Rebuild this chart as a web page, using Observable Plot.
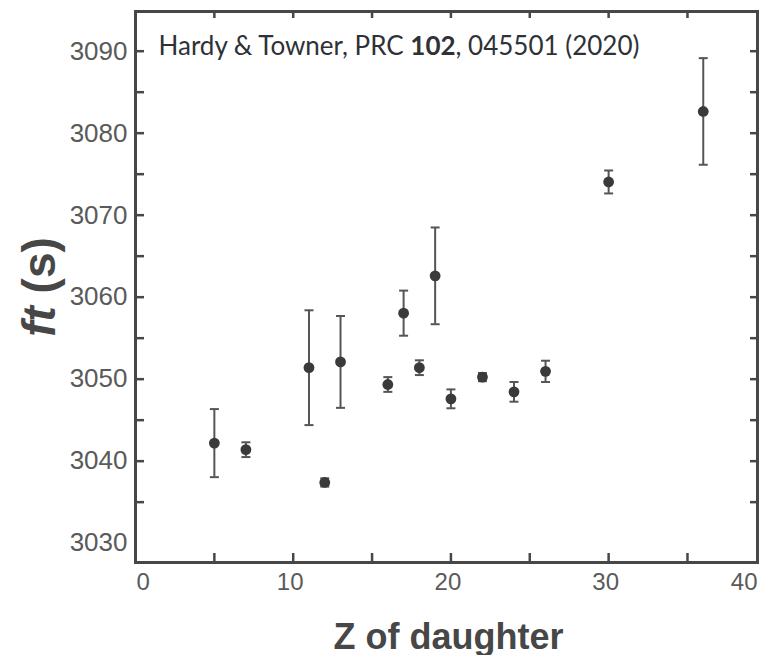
<!DOCTYPE html>
<html>
<head>
<meta charset="utf-8">
<script src="https://cdn.jsdelivr.net/npm/d3@7"></script>
<script src="https://cdn.jsdelivr.net/npm/@observablehq/plot@0.6"></script>
<style>
  html, body { margin: 0; padding: 0; background: #fff; }
  #chart svg { display: block; }
</style>
</head>
<body>
<div id="chart"></div>
<script>
// Data
const zDaughter = [5, 7, 11, 12, 13, 16, 17, 18, 19, 20, 22, 24, 26, 30, 36];
const ftValue   = [3042.2, 3041.4, 3051.4, 3037.4, 3052.1, 3049.35, 3058.05, 3051.4, 3062.6, 3047.6, 3050.25, 3048.45, 3050.95, 3074.05, 3082.65];
const ftError   = [4.15, 0.9, 7.0, 0.5, 5.6, 0.9, 2.75, 0.9, 5.9, 1.15, 0.5, 1.2, 1.3, 1.4, 6.5];

const yTickLabels = [3030, 3040, 3050, 3060, 3070, 3080, 3090];
const yTickMarks = [3035, 3040, 3045, 3050, 3055, 3060, 3065, 3070, 3075, 3080, 3085, 3090];
const xTickMarks = [5, 10, 15, 20, 25, 30, 35];
const xTickLabels = [10, 20, 30];
const xFirstLabel = [0];
const xLastLabel = [40];

const annotation = "Hardy & Towner, PRC 102, 045501 (2020)";
const xTitle = "Z of daughter";
const yTitle = "ft (s)";

const data = zDaughter.map((z, i) => ({z, ft: ftValue[i], err: ftError[i]}));

const W = 764, H = 655;
const mL = 135, mR = 7, mT = 11, mB = 93;
const fw = W - mL - mR, fh = H - mT - mB;
const tickLen = 9;
const axisColor = "#474747";
const labelColor = "#5a5a5a";

const capSymbol = {
  draw(ctx, size) {
    const w = Math.sqrt(size / Math.PI);
    ctx.moveTo(-w, 0);
    ctx.lineTo(w, 0);
  }
};

const chart = Plot.plot({
  width: W,
  height: H,
  marginLeft: mL,
  marginRight: mR,
  marginTop: mT,
  marginBottom: mB,
  style: {fontFamily: "'Liberation Sans', Arial, sans-serif", background: "#fff"},
  x: {domain: [0, 39.44], axis: null},
  y: {domain: [3027.64, 3094.84], axis: null},
  marks: [
    // inward tick marks on all four sides
    Plot.tickY(yTickMarks, {y: d => d, insetRight: fw - tickLen, stroke: axisColor, strokeWidth: 2.5}),
    Plot.tickY(yTickMarks, {y: d => d, insetLeft: fw - tickLen + 2, stroke: axisColor, strokeWidth: 2.5}),
    Plot.tickX(xTickMarks, {x: d => d, insetTop: fh - tickLen, stroke: axisColor, strokeWidth: 2.5}),
    Plot.tickX(xTickMarks, {x: d => d, insetBottom: fh - tickLen + 2, stroke: axisColor, strokeWidth: 2.5}),
    // error bars
    Plot.ruleX(data, {x: "z", y1: d => d.ft - d.err, y2: d => d.ft + d.err, stroke: "#555", strokeWidth: 2}),
    Plot.dot(data, {x: "z", y: d => d.ft + d.err, symbol: capSymbol, r: 4.5, stroke: "#555", strokeWidth: 2, fill: "none"}),
    Plot.dot(data, {x: "z", y: d => d.ft - d.err, symbol: capSymbol, r: 4.5, stroke: "#555", strokeWidth: 2, fill: "none"}),
    // points
    Plot.dot(data, {x: "z", y: "ft", r: 5.4, fill: "#3a3a3a", stroke: "none"}),
    // frame
    Plot.frame({stroke: axisColor, strokeWidth: 3}),
    // y tick labels
    Plot.text(yTickLabels, {y: d => d, frameAnchor: "left", dx: -8, textAnchor: "end", fontSize: 26, fill: labelColor, text: d => String(d)}),
    // x tick labels
    Plot.text(xTickLabels, {x: d => d, frameAnchor: "bottom", dx: -3, dy: 20, lineAnchor: "middle", fontSize: 24, fill: labelColor, text: d => String(d)}),
    Plot.text(xFirstLabel, {frameAnchor: "bottom-left", dx: 1, dy: 20, lineAnchor: "middle", textAnchor: "start", fontSize: 24, fill: labelColor, text: d => String(d)}),
    Plot.text(xLastLabel, {frameAnchor: "bottom-right", dx: 0, dy: 20, lineAnchor: "middle", textAnchor: "end", fontSize: 24, fill: labelColor, text: d => String(d)}),
    // axis titles
    Plot.text([xTitle], {frameAnchor: "bottom", dx: 2, dy: 86, lineAnchor: "bottom", fontSize: 36, fontWeight: "bold", fill: axisColor, text: d => d, className: "xtitle"}),
    Plot.text([yTitle], {frameAnchor: "left", dx: -95, rotate: -90, textAnchor: "middle", lineAnchor: "middle", fontSize: 46, fontWeight: "bold", fill: axisColor, text: d => d, className: "ytitle"}),
    // annotation
    Plot.text([annotation], {frameAnchor: "top-left", dx: 23, dy: 43, lineAnchor: "bottom", textAnchor: "start", fontSize: 26, fill: "#2e3236", text: d => d, fontFamily: "Lato, 'Open Sans', sans-serif", className: "annot"})
  ]
});

document.getElementById("chart").appendChild(chart);

// rich text: bold volume number and italic "ft"
const annotNode = d3.select(chart).select(".annot text");
if (!annotNode.empty()) {
  annotNode.text(null);
  annotNode.append("tspan").text("Hardy & Towner, PRC ");
  annotNode.append("tspan").attr("font-weight", "bold").text("102");
  annotNode.append("tspan").text(", 045501 (2020)");
}
const yNode = d3.select(chart).select(".ytitle text");
if (!yNode.empty()) {
  yNode.text(null);
  yNode.append("tspan").attr("font-style", "italic").text("ft");
  yNode.append("tspan").text(" (s)");
}
</script>
</body>
</html>
